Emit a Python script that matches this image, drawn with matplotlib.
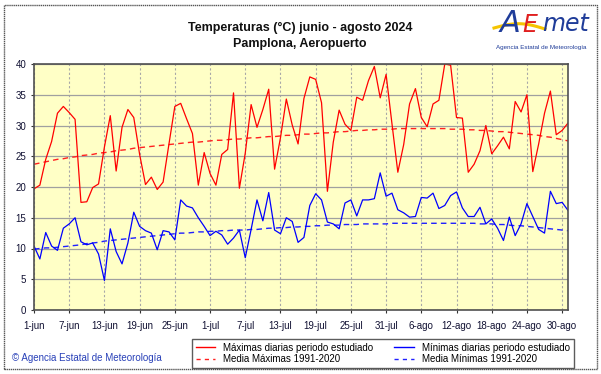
import numpy as np
import matplotlib.pyplot as plt
from matplotlib.patches import Rectangle
from matplotlib.lines import Line2D

plt.rcParams['font.family'] = ['Liberation Sans', 'DejaVu Sans']

# datos diarios 1-jun .. 31-ago 2024
t_max = [19.7, 20.3, 24.5, 27.4, 32.0, 33.1, 32.1, 31.0, 17.5, 17.6,
         19.9, 20.5, 26.5, 31.6, 22.6, 29.7, 32.6, 31.3, 25.3, 20.4,
         21.6, 19.6, 20.8, 27.0, 33.1, 33.6, 31.1, 28.7, 20.3, 25.6,
         22.2, 20.3, 25.3, 26.1, 35.3, 19.8, 25.5, 33.4, 29.7, 32.6,
         35.9, 22.9, 28.0, 34.3, 30.1, 27.0, 34.4, 37.9, 37.5, 33.7,
         19.3, 27.3, 32.5, 30.2, 29.2, 34.6, 34.1, 37.3, 39.6, 34.5,
         38.3, 30.3, 22.4, 26.9, 33.5, 36.0, 31.3, 29.8, 33.5, 34.1,
         40.0, 39.8, 31.3, 31.2, 22.4, 23.7, 25.9, 30.0, 25.4, 26.7,
         28.1, 26.2, 33.9, 32.2, 35.0, 22.5, 27.0, 32.0, 35.6, 28.5,
         29.2, 30.4]

t_min = [10.4, 8.3, 12.6, 10.4, 9.7, 13.3, 14.0, 15.0, 11.1, 10.6,
         10.9, 9.1, 4.8, 13.2, 9.5, 7.5, 10.9, 15.9, 13.6, 12.9,
         12.5, 9.8, 12.9, 12.7, 11.4, 17.9, 16.9, 16.6, 15.0, 13.6,
         12.1, 12.8, 12.2, 10.7, 11.7, 13.0, 8.5, 13.1, 17.9, 14.5,
         19.1, 13.0, 12.4, 15.0, 14.4, 11.0, 11.8, 17.0, 18.9, 17.9,
         14.3, 14.0, 13.2, 17.4, 17.9, 15.3, 17.9, 17.9, 18.1, 22.3,
         18.5, 19.0, 16.3, 15.8, 15.1, 15.2, 18.3, 18.2, 19.0, 16.5,
         17.0, 18.6, 19.2, 16.6, 15.2, 15.2, 16.7, 14.0, 14.8, 13.3,
         11.3, 15.1, 12.1, 14.0, 17.3, 15.2, 13.1, 12.5, 19.3, 17.3,
         17.5, 16.2]

media_max = [23.7, 23.9, 24.1, 24.3, 24.5, 24.6, 24.8, 24.9, 25.1, 25.2,
             25.3, 25.5, 25.6, 25.7, 25.9, 26.0, 26.1, 26.3, 26.4, 26.5,
             26.6, 26.7, 26.8, 26.9, 27.0, 27.1, 27.2, 27.3, 27.3, 27.4,
             27.5, 27.6, 27.6, 27.7, 27.8, 27.8, 27.9, 28.0, 28.0, 28.1,
             28.2, 28.2, 28.3, 28.4, 28.4, 28.5, 28.6, 28.6, 28.7, 28.8,
             28.8, 28.9, 29.0, 29.0, 29.1, 29.2, 29.2, 29.3, 29.3, 29.4,
             29.4, 29.4, 29.5, 29.5, 29.5, 29.5, 29.5, 29.5, 29.5, 29.5,
             29.5, 29.4, 29.4, 29.4, 29.3, 29.3, 29.2, 29.2, 29.1, 29.0,
             29.0, 28.9, 28.8, 28.7, 28.6, 28.5, 28.4, 28.2, 28.1, 27.9,
             27.7, 27.5]

media_min = [9.9, 10.0, 10.1, 10.1, 10.2, 10.3, 10.4, 10.5, 10.6, 10.8,
             10.9, 11.0, 11.2, 11.3, 11.4, 11.5, 11.6, 11.7, 11.8, 11.9,
             12.0, 12.1, 12.2, 12.3, 12.4, 12.5, 12.5, 12.6, 12.7, 12.7,
             12.8, 12.8, 12.9, 12.9, 13.0, 13.0, 13.0, 13.1, 13.1, 13.2,
             13.3, 13.3, 13.4, 13.4, 13.5, 13.5, 13.6, 13.6, 13.7, 13.7,
             13.8, 13.8, 13.8, 13.9, 13.9, 13.9, 14.0, 14.0, 14.0, 14.0,
             14.0, 14.1, 14.1, 14.1, 14.1, 14.1, 14.1, 14.1, 14.1, 14.1,
             14.1, 14.1, 14.1, 14.1, 14.1, 14.1, 14.0, 14.0, 14.0, 13.9,
             13.9, 13.8, 13.7, 13.7, 13.6, 13.5, 13.4, 13.3, 13.2, 13.1,
             13.0, 12.9]

etiquetas = ['1-jun', '7-jun', '13-jun', '19-jun', '25-jun', '1-jul', '7-jul',
             '13-jul', '19-jul', '25-jul', '31-jul', '6-ago', '12-ago',
             '18-ago', '24-ago', '30-ago']

dias = np.arange(len(t_max))

fig = plt.figure(figsize=(6.01, 3.74), dpi=100)
fig.patch.set_facecolor('white')

# marco exterior
fig.patches.append(Rectangle((4 / 601, 5 / 374), 593 / 601, 364 / 374,
                             transform=fig.transFigure, fill=False,
                             edgecolor='#555555', linewidth=1.0, linestyle=(0, (1, 0.5))))

ax = fig.add_axes([34 / 601, 64 / 374, 534 / 601, 246 / 374])
ax.set_facecolor('#FFFFC6')

ax.plot(dias, media_max, color='#FF2020', lw=1.0, ls=(0, (4, 3)))
ax.plot(dias, media_min, color='#2020FF', lw=1.0, ls=(0, (4, 3)))
ax.plot(dias, t_max, color='#FF0000', lw=0.9)
ax.plot(dias, t_min, color='#0000FF', lw=0.9)

ax.set_xlim(0, len(dias) - 1)
ax.set_ylim(0, 40)
ax.set_yticks(range(0, 41, 5))
ax.set_xticks(dias[::6])
ax.set_xticklabels(etiquetas)
ax.tick_params(axis='both', labelsize=7, length=2, colors='#333333',
               labelcolor='#111133')
ax.tick_params(axis='x', pad=6)
ax.grid(axis='y', color='#A0A0A0', lw=0.9)
ax.grid(axis='x', color='#A8A8A8', lw=0.8, ls=(0, (2, 2)))
ax.set_axisbelow(True)
for s in ax.spines.values():
    s.set_color('#505050')
    s.set_linewidth(1.2)

fig.text(300 / 601, 1 - 28 / 374, 'Temperaturas (°C) junio - agosto 2024',
         ha='center', va='center', fontsize=9, fontweight='bold', color='#111111')
fig.text(300 / 601, 1 - 44 / 374, 'Pamplona, Aeropuerto',
         ha='center', va='center', fontsize=9, fontweight='bold', color='#111111')

# logo aproximado
sx = np.linspace(494, 545, 30)
sy = 28 - 8 * np.sin((sx - 494) / 51 * np.pi) * 0.6 + (sx - 494) * 0.02
fig.add_artist(Line2D(sx / 601, 1 - sy / 374, color='#F5C400', lw=2.2,
                      transform=fig.transFigure))
fig.text(510 / 601, 1 - 24 / 374, 'A', ha='center', va='center',
         fontsize=22, style='italic', color='#1F3C99', family='DejaVu Sans')
fig.text(530 / 601, 1 - 25 / 374, 'E', ha='center', va='center',
         fontsize=17, style='italic', color='#E02020', family='DejaVu Sans')
fig.text(566 / 601, 1 - 24 / 374, 'met', ha='center', va='center',
         fontsize=17, style='italic', color='#1F3C99', family='DejaVu Sans')
fig.text(541 / 601, 1 - 47 / 374, 'Agencia Estatal de Meteorología',
         ha='center', va='center', fontsize=4.5, color='#1F3C99')

fig.text(12 / 601, 1 - 358 / 374, '© Agencia Estatal de Meteorología',
         ha='left', va='center', fontsize=7, color='#2840B8')

# leyenda
handles = [Line2D([], [], color='#FF0000', lw=1.0),
           Line2D([], [], color='#FF2020', lw=1.0, ls=(0, (3, 3))),
           Line2D([], [], color='#0000FF', lw=1.0),
           Line2D([], [], color='#2020FF', lw=1.0, ls=(0, (3, 3)))]
labels = ['Máximas diarias periodo estudiado', 'Media Máximas 1991-2020',
          'Mínimas diarias periodo estudiado', 'Media Mínimas 1991-2020']
leg = fig.legend(handles, labels, ncol=2, loc='upper left',
                 bbox_to_anchor=(187 / 601, 1 - 334 / 374), fontsize=7,
                 frameon=True, fancybox=False, handlelength=2.0,
                 columnspacing=2.2, labelspacing=0.15, borderpad=0.4,
                 handletextpad=0.8)
leg.get_frame().set_edgecolor('#333333')
leg.get_frame().set_linewidth(1.0)

fig.savefig('out.png', dpi=100)
